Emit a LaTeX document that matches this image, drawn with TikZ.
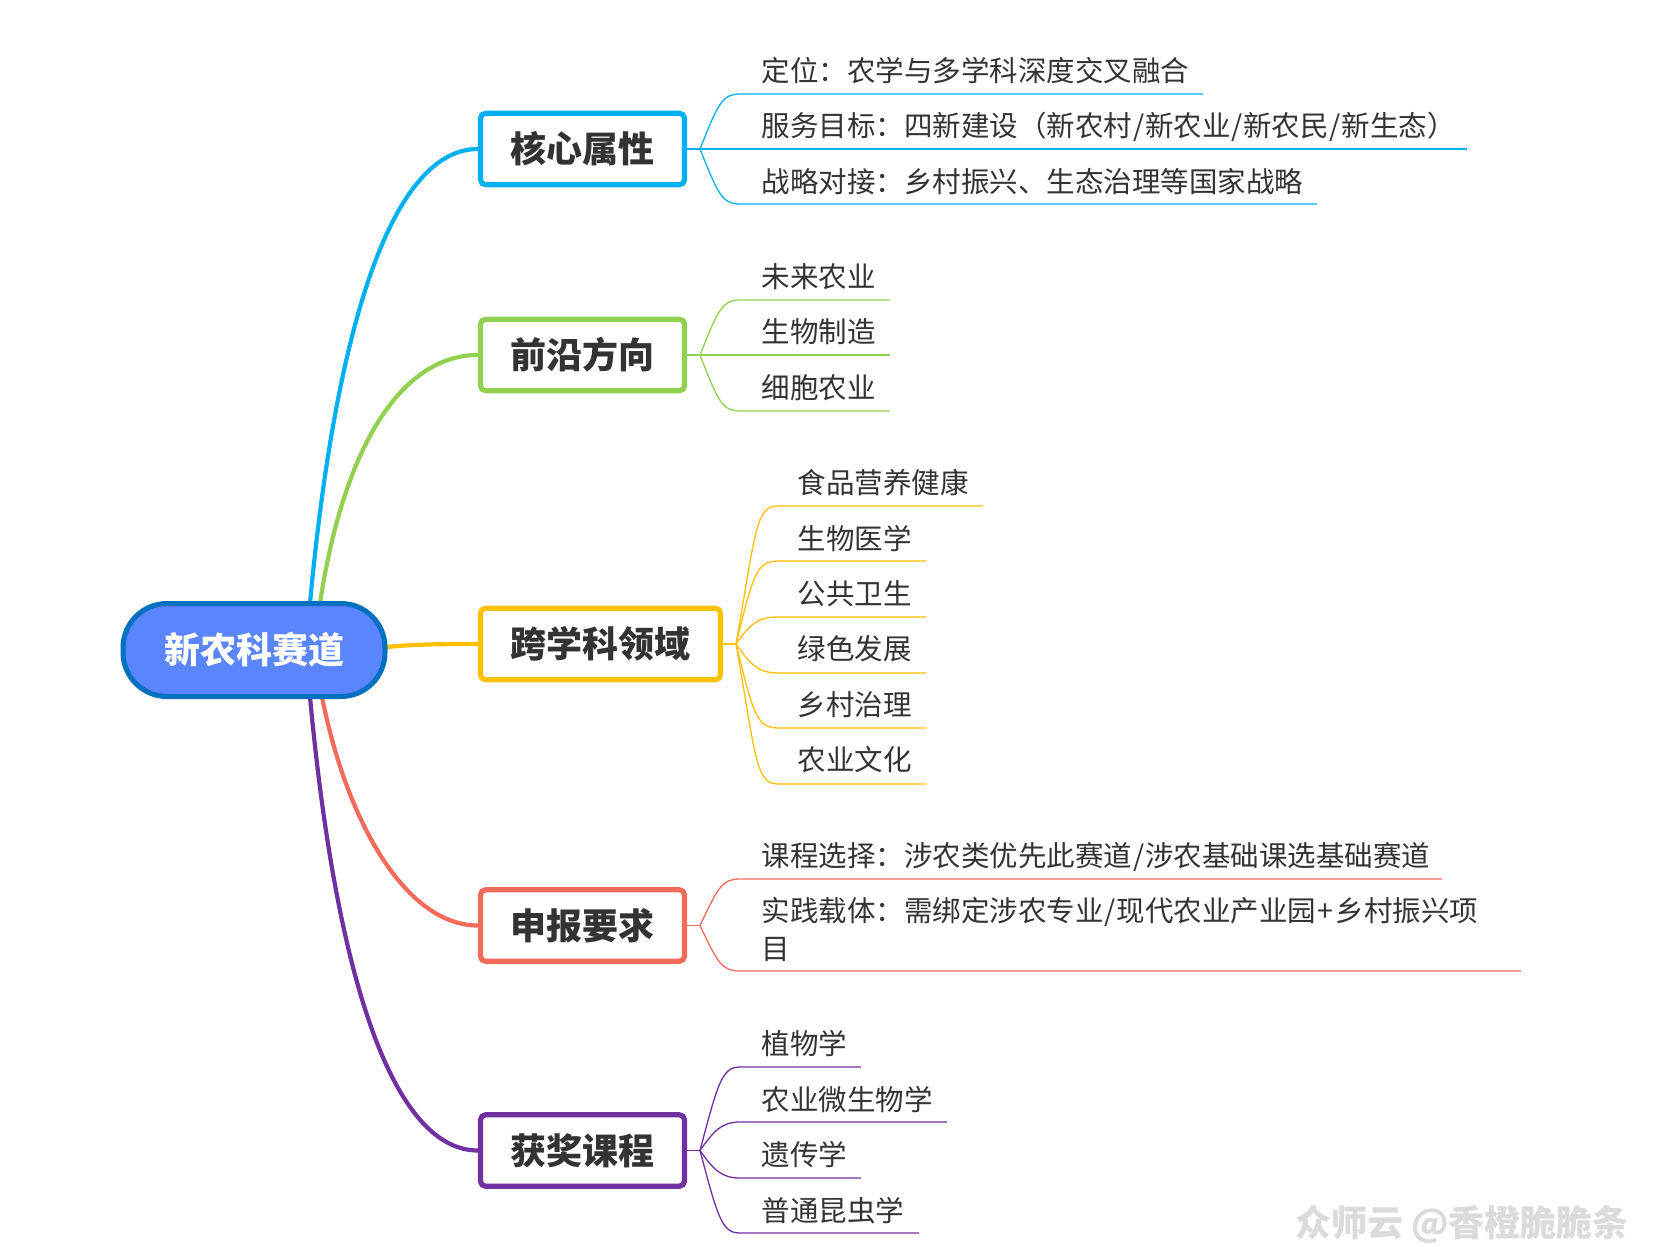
\documentclass[tikz,border=0pt]{standalone}
\usepackage{fontspec}
\setmainfont{Noto Sans CJK SC}
\usetikzlibrary{backgrounds}
\definecolor{cblue}{HTML}{00B0F0}
\definecolor{cgreen}{HTML}{92D050}
\definecolor{cyellow}{HTML}{FFC000}
\definecolor{cred}{HTML}{F26B5B}
\definecolor{cpurple}{HTML}{7030A0}
\definecolor{rootfill}{HTML}{5B85FF}
\definecolor{rootline}{HTML}{0070C0}
\definecolor{inktext}{HTML}{333333}
\newcommand{\dnb}[1]{\raisebox{-0.7pt}{#1}}
\newcommand{\slh}{\kern0.4pt/\kern0.4pt}
\newcommand{\plh}{\kern0.9pt+\kern0.9pt}
\tikzset{
  x=0.5pt,y=-0.5pt,
  rootnode/.style={draw=rootline,fill=rootfill,line width=2.5pt,rounded corners=22pt,minimum width=131pt,minimum height=46.5pt,inner sep=0pt,text=white,font=\fontsize{18}{22}\selectfont\bfseries},
  mainbox/.style={draw=#1,fill=white,line width=2.6pt,rounded corners=2.5pt,minimum height=35.7pt,inner sep=0pt,text=inktext,font=\fontsize{18}{22}\selectfont\bfseries},
  branch/.style={draw=#1,line width=2.1pt},
  twig/.style={draw=#1,line width=0.65pt},
  leaf/.style={anchor=west,inner sep=0pt,text=inktext,font=\fontsize{14.25}{19}\selectfont},
  wmark/.style={anchor=center,inner sep=0pt,text=black!14,font=\fontsize{18}{20}\selectfont\bfseries}
}
\begin{document}
\begin{tikzpicture}
\useasboundingbox (0,0) rectangle (1656,1247);
% nodes
\node[rootnode] (root) at (254,650) {新农科赛道};
\node[mainbox=cblue,minimum width=102pt] (b1) at (582.5,149) {\dnb{核心属性}};
\node[mainbox=cgreen,minimum width=102pt] (b2) at (582.5,355) {\dnb{前沿方向}};
\node[mainbox=cyellow,minimum width=120pt] (b3) at (600.5,644) {\dnb{跨学科领域}};
\node[mainbox=cred,minimum width=102pt] (b4) at (582.5,925.5) {\dnb{申报要求}};
\node[mainbox=cpurple,minimum width=102pt] (b5) at (582.5,1150.5) {\dnb{获奖课程}};
% leaves
\node[leaf] (a1) at (761.5,70.7) {定位：农学与多学科深度交叉融合};
\node[leaf] (a2) at (761.5,127) {服务目标：四新建设（新农村\slh 新农业\slh 新农民\slh 新生态）};
\node[leaf] (a3) at (761.5,181.7) {战略对接：乡村振兴、生态治理等国家战略};
\node[leaf] (c1) at (761.5,276.5) {未来农业};
\node[leaf] (c2) at (761.5,331.5) {生物制造};
\node[leaf] (c3) at (761.5,387.5) {细胞农业};
\node[leaf] (d1) at (797.5,483) {食品营养健康};
\node[leaf] (d2) at (797.5,538.5) {生物医学};
\node[leaf] (d3) at (797.5,594) {公共卫生};
\node[leaf] (d4) at (797.5,648.7) {绿色发展};
\node[leaf] (d5) at (797.5,705) {乡村治理};
\node[leaf] (d6) at (797.5,760) {农业文化};
\node[leaf] (e1) at (761.5,856.5) {课程选择：涉农类优先此赛道\slh 涉农基础课选基础赛道};
\node[leaf,align=left] (e2) at (761.5,929) {实践载体：需绑定涉农专业\slh 现代农业产业园\plh 乡村振兴项\\目};
\node[leaf] (g1) at (761.5,1043.5) {植物学};
\node[leaf] (g2) at (761.5,1099.5) {农业微生物学};
\node[leaf] (g3) at (761.5,1155) {遗传学};
\node[leaf] (g4) at (761.5,1210.5) {普通昆虫学};
\node[wmark] (wm) at (1462,1224) {众师云 @香橙脆脆条};
% connector ends
\coordinate (r1) at (310,603); \coordinate (r2) at (320,603);
\coordinate (r3) at (387,647); \coordinate (r4) at (322,697); \coordinate (r5) at (310,697);
\coordinate (f1) at (700,149); \coordinate (f2) at (700,355); \coordinate (f3) at (736,644);
\coordinate (f4) at (700,925.5); \coordinate (f5) at (700,1150.5);
\coordinate (sa1) at (740,94); \coordinate (ea1) at (1203,94);
\coordinate (ea2) at (1467,149);
\coordinate (sa3) at (740,204); \coordinate (ea3) at (1317,204);
\coordinate (sc1) at (740,300); \coordinate (ec1) at (890,300);
\coordinate (ec2) at (890,355);
\coordinate (sc3) at (740,411); \coordinate (ec3) at (890,411);
\coordinate (sd1) at (778,506); \coordinate (ed1) at (983,506);
\coordinate (sd2) at (778,561); \coordinate (ed2) at (926,561);
\coordinate (sd3) at (778,617); \coordinate (ed3) at (926,617);
\coordinate (sd4) at (778,673); \coordinate (ed4) at (926,673);
\coordinate (sd5) at (778,728); \coordinate (ed5) at (926,728);
\coordinate (sd6) at (778,784); \coordinate (ed6) at (926,784);
\coordinate (se1) at (740,879); \coordinate (ee1) at (1442,879);
\coordinate (se2) at (740,971); \coordinate (ee2) at (1521,971);
\coordinate (sg1) at (740,1067); \coordinate (eg1) at (861,1067);
\coordinate (sg2) at (740,1122); \coordinate (eg2) at (947,1122);
\coordinate (sg3) at (740,1178); \coordinate (eg3) at (861,1178);
\coordinate (sg4) at (740,1233); \coordinate (eg4) at (919,1233);
\begin{scope}[on background layer]
\fill[white] (0,0) rectangle (1656,1247);
% main branches
\draw[branch=cblue] (r1) .. controls +(28,-300) and +(-80,0) .. (b1.west);
\draw[branch=cgreen] (r2) .. controls +(26,-170) and +(-70,0) .. (b2.west);
\draw[branch=cyellow] (r3) .. controls +(30,-3) and +(-30,0) .. (b3.west);
\draw[branch=cred] (r4) .. controls +(26,130) and +(-70,0) .. (b4.west);
\draw[branch=cpurple] (r5) .. controls +(28,300) and +(-80,0) .. (b5.west);
% group 1
\draw[twig=cblue] (b1.east) -- (f1) -- (ea2);
\draw[twig=cblue] (f1) .. controls +(18,-45) and +(-18,0) .. (sa1) -- (ea1);
\draw[twig=cblue] (f1) .. controls +(18,45) and +(-18,0) .. (sa3) -- (ea3);
% group 2
\draw[twig=cgreen] (b2.east) -- (f2) -- (ec2);
\draw[twig=cgreen] (f2) .. controls +(18,-45) and +(-18,0) .. (sc1) -- (ec1);
\draw[twig=cgreen] (f2) .. controls +(18,46) and +(-18,0) .. (sc3) -- (ec3);
% group 3
\draw[twig=cyellow] (b3.east) -- (f3);
\draw[twig=cyellow] (f3) .. controls +(20,-115) and +(-22,0) .. (sd1) -- (ed1);
\draw[twig=cyellow] (f3) .. controls +(17,-68) and +(-22,0) .. (sd2) -- (ed2);
\draw[twig=cyellow] (f3) .. controls +(14,-20) and +(-20,0) .. (sd3) -- (ed3);
\draw[twig=cyellow] (f3) .. controls +(14,20) and +(-20,0) .. (sd4) -- (ed4);
\draw[twig=cyellow] (f3) .. controls +(17,68) and +(-22,0) .. (sd5) -- (ed5);
\draw[twig=cyellow] (f3) .. controls +(20,115) and +(-22,0) .. (sd6) -- (ed6);
% group 4
\draw[twig=cred] (b4.east) -- (f4);
\draw[twig=cred] (f4) .. controls +(18,-38) and +(-18,0) .. (se1) -- (ee1);
\draw[twig=cred] (f4) .. controls +(18,38) and +(-18,0) .. (se2) -- (ee2);
% group 5
\draw[twig=cpurple] (b5.east) -- (f5);
\draw[twig=cpurple] (f5) .. controls +(18,-68) and +(-18,0) .. (sg1) -- (eg1);
\draw[twig=cpurple] (f5) .. controls +(14,-20) and +(-18,0) .. (sg2) -- (eg2);
\draw[twig=cpurple] (f5) .. controls +(14,20) and +(-18,0) .. (sg3) -- (eg3);
\draw[twig=cpurple] (f5) .. controls +(18,68) and +(-18,0) .. (sg4) -- (eg4);
\end{scope}
\end{tikzpicture}
\end{document}
